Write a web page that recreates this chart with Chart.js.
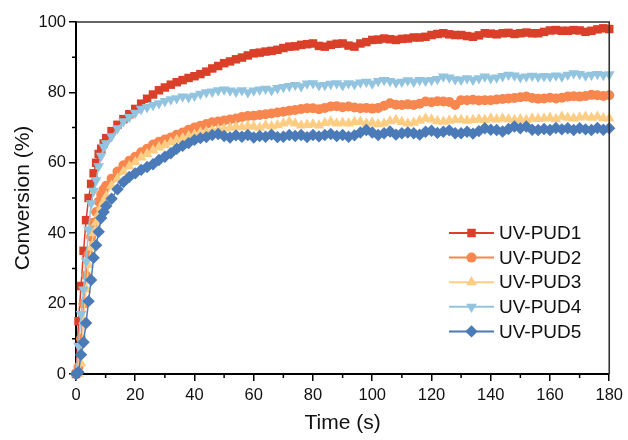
<!DOCTYPE html>
<html>
<head>
<meta charset="utf-8">
<script src="https://cdn.jsdelivr.net/npm/chart.js@4"></script>
<style>
  html, body { margin: 0; padding: 0; background: #fff; }
  #wrap { width: 628px; height: 440px; }
</style>
</head>
<body>
<div id="wrap"><canvas id="stage"></canvas></div>
<script>
// time axis (s): dense sampling at the start, then every 2 s
var time = [0, 0.85, 1.7, 2.55, 3.4, 4.25, 5.1, 5.95, 6.8, 7.65, 8.5, 9.35, 10.2,
  12, 14, 16, 18, 20, 22, 24, 26, 28, 30,
  32, 34, 36, 38, 40, 42, 44, 46, 48, 50,
  52, 54, 56, 58, 60, 62, 64, 66, 68, 70,
  72, 74, 76, 78, 80, 82, 84, 86, 88, 90,
  92, 94, 96, 98, 100, 102, 104, 106, 108, 110,
  112, 114, 116, 118, 120, 122, 124, 126, 128, 130,
  132, 134, 136, 138, 140, 142, 144, 146, 148, 150,
  152, 154, 156, 158, 160, 162, 164, 166, 168, 170,
  172, 174, 176, 178, 180];

var pud1 = [0, 15, 25, 35, 43.7, 50, 54, 57, 60, 62.5, 64, 65.5, 67,
  69, 70.8, 72.4, 73.8, 75.3, 76.8, 78.2, 79.4, 80.6, 81.4,
  82.2, 82.9, 83.5, 84.1, 84.6, 85.2, 85.9, 86.8, 87.5, 88.3,
  88.8, 89.4, 89.9, 90.5, 91.1, 91.3, 91.6, 91.8, 92.1, 92.6,
  93.0, 93.1, 93.5, 93.7, 93.9, 93.2, 93.0, 93.5, 93.8, 93.9,
  93.3, 93.0, 93.9, 94.3, 94.9, 95.0, 95.3, 95.1, 94.9, 95.2,
  95.3, 95.6, 95.6, 95.8, 96.3, 96.6, 96.8, 96.5, 96.3, 96.3,
  96.0, 95.8, 96.2, 96.8, 96.7, 96.5, 96.8, 96.9, 96.6, 96.8,
  97.0, 96.8, 96.8, 97.2, 97.6, 97.7, 97.5, 97.5, 97.7, 97.6,
  97.2, 97.5, 97.9, 98.2, 98.0];

var pud2 = [0, 2, 10, 20, 28, 34, 39, 43, 46, 49, 51, 52.5, 53.5,
  55.5, 57.5, 59.3, 60.6, 61.7, 63.0, 64.0, 65.2, 66.0, 66.6,
  67.2, 68.0, 68.6, 69.4, 70.0, 70.5, 71.0, 71.5, 71.7, 72.0,
  72.3, 72.6, 73.0, 73.3, 73.4, 73.6, 73.8, 74.0, 74.3, 74.5,
  74.8, 75.0, 75.3, 75.5, 75.5, 75.2, 75.6, 76.0, 76.1, 75.8,
  76.0, 75.7, 75.5, 75.6, 75.4, 75.6, 76.2, 76.9, 76.5, 76.4,
  76.6, 76.4, 76.8, 77.4, 77.2, 77.5, 77.4, 77.3, 76.4, 77.8,
  77.8, 77.9, 77.7, 77.8, 77.8, 78.0, 78.1, 78.3, 78.4, 78.6,
  78.8, 78.4, 78.2, 78.3, 78.5, 78.3, 78.5, 78.8, 78.9, 78.8,
  79.0, 79.3, 79.2, 79.0, 79.2];

var pud3 = [0, 0, 3, 15, 24, 31, 36, 40, 43, 45.5, 47.5, 49, 50.5,
  53.5, 55.5, 57.5, 59.0, 60.2, 61.5, 62.5, 63.5, 64.4, 65.0,
  65.8, 66.5, 67.0, 67.6, 68.0, 68.6, 68.8, 69.2, 69.5, 69.7,
  70.0, 70.3, 70.1, 70.5, 70.3, 70.0, 70.6, 70.4, 70.7, 71.2,
  71.7, 71.2, 70.6, 70.8, 71.0, 70.6, 71.3, 71.7, 71.2, 71.4,
  71.2, 71.6, 71.7, 71.2, 71.4, 71.0, 71.2, 71.8, 72.2, 71.6,
  71.2, 71.4, 72.0, 72.6, 72.3, 71.8, 71.7, 72.0, 72.2, 72.2,
  72.0, 72.2, 72.4, 72.2, 72.6, 72.3, 72.6, 72.4, 72.2, 72.4,
  72.2, 72.6, 72.5, 72.6, 72.8, 72.4, 73.1, 72.8, 72.6, 72.9,
  73.1, 72.8, 73.1, 72.7, 72.6];

var pud4 = [0, 8, 17, 24, 32, 41, 48.5, 52, 55, 59, 62, 64.5, 65.5,
  67.5, 69.8, 71.8, 73.0, 74.2, 75.3, 75.8, 76.4, 76.9, 77.5,
  78.0, 78.3, 78.8, 78.6, 79.0, 79.6, 80.0, 80.2, 80.6, 80.8,
  80.5, 80.2, 80.6, 80.0, 80.5, 80.8, 81.0, 80.6, 81.2, 81.5,
  81.8, 82.1, 81.7, 82.5, 82.6, 82.0, 82.1, 82.4, 82.6, 82.0,
  82.6, 82.3, 82.8, 83.0, 82.5, 83.2, 83.5, 83.2, 82.8, 83.0,
  83.4, 83.0, 83.5, 83.3, 83.5, 83.8, 84.5, 84.2, 83.7, 83.6,
  84.0, 83.6, 84.0, 84.5, 84.0, 84.2, 84.6, 85.0, 84.8, 84.3,
  84.5, 84.7, 84.4, 84.6, 84.5, 84.8, 84.5, 85.0, 85.4, 85.2,
  84.8, 85.0, 85.2, 84.9, 85.1];

var pud5 = [0, 0.5, 5.5, 9, 14.5, 20.7, 26.7, 33, 36.6, 40.4, 44.3, 46, 47.7,
  49.8, 52.5, 54.5, 56.0, 57.0, 58.0, 58.8, 59.6, 60.8, 61.7,
  62.7, 64.0, 64.8, 65.6, 66.5, 67.0, 67.3, 67.9, 68.2, 67.6,
  67.2, 67.8, 67.4, 67.9, 67.2, 67.6, 67.4, 68.0, 67.3, 67.4,
  67.9, 67.6, 67.9, 67.3, 67.9, 67.5, 67.9, 68.2, 67.6, 67.9,
  67.4, 67.8, 68.6, 69.3, 68.6, 67.9, 68.4, 68.9, 68.0, 68.4,
  68.6, 68.4, 68.0, 68.8, 69.1, 68.5, 68.8, 69.2, 68.4, 68.4,
  68.8, 68.3, 69.0, 69.8, 69.4, 69.3, 68.9, 69.6, 70.3, 69.8,
  70.3, 69.4, 69.3, 69.6, 69.3, 69.9, 69.5, 69.8, 69.3, 69.8,
  69.5, 69.3, 69.9, 69.4, 69.8];

var names = ['UV-PUD1', 'UV-PUD2', 'UV-PUD3', 'UV-PUD4', 'UV-PUD5'];
var colors = ['#DA4029', '#F7874F', '#FDCD84', '#92C4DF', '#4A7AB7'];
var markers = ['rect', 'circle', 'triangle', 'triangle', 'rectRot'];
var rotations = [0, 0, 0, 180, 0];
var radii = [6, 5, 6.2, 6.2, 6.2];

var xTicks = [0, 20, 40, 60, 80, 100, 120, 140, 160, 180];
var yTicks = [0, 20, 40, 60, 80, 100];

var FONT = "'Liberation Sans', Arial, sans-serif";

var allSeries = [pud1, pud2, pud3, pud4, pud5];
var datasets = [];
for (var i = 0; i < allSeries.length; i++) {
  datasets.push({
    label: names[i],
    data: allSeries[i].map(function (v, k) { return {x: time[k], y: v}; }),
    showLine: true,
    borderColor: colors[i],
    backgroundColor: colors[i],
    borderWidth: 1.5,
    pointStyle: markers[i],
    pointRotation: rotations[i],
    pointRadius: radii[i],
    pointHoverRadius: radii[i],
    pointBorderWidth: 0,
    pointBackgroundColor: colors[i],
    order: allSeries.length - i,   // last series drawn on top
    clip: false
  });
}

// frame on top/right, minor ticks and the line+marker legend
var decoPlugin = {
  id: 'deco',
  afterDraw: function (chart) {
    var ctx = chart.ctx;
    var a = chart.chartArea;
    var xs = chart.scales.x, ys = chart.scales.y;
    ctx.save();
    ctx.strokeStyle = '#333';
    ctx.lineWidth = 1.6;
    ctx.beginPath();
    ctx.moveTo(a.left, a.top);
    ctx.lineTo(a.right, a.top);
    ctx.lineTo(a.right, a.bottom);
    ctx.stroke();

    ctx.strokeStyle = '#000';
    ctx.lineWidth = 1.5;
    ctx.beginPath();
    for (var v = 10; v < 100; v += 20) {
      var py = ys.getPixelForValue(v);
      ctx.moveTo(a.left - 4, py);
      ctx.lineTo(a.left, py);
    }
    for (var t = 10; t < 180; t += 20) {
      var px = xs.getPixelForValue(t);
      ctx.moveTo(px, a.bottom);
      ctx.lineTo(px, a.bottom + 4);
    }
    ctx.stroke();

    // legend
    var lx0 = 449, lx1 = 494, ly = 233, gap = 24.6;
    ctx.font = '19px ' + FONT;
    ctx.textBaseline = 'middle';
    ctx.textAlign = 'left';
    for (var i = 0; i < names.length; i++) {
      var y = ly + i * gap;
      ctx.strokeStyle = colors[i];
      ctx.lineWidth = 2;
      ctx.beginPath();
      ctx.moveTo(lx0, y);
      ctx.lineTo(lx1, y);
      ctx.stroke();
      ctx.fillStyle = colors[i];
      ctx.strokeStyle = colors[i];
      Chart.helpers.drawPoint(ctx, {
        pointStyle: markers[i], radius: radii[i],
        rotation: rotations[i], borderWidth: 0
      }, (lx0 + lx1) / 2, y);
      ctx.fillStyle = '#111';
      ctx.fillText(names[i], 499, y + 1);
    }
    ctx.restore();
  }
};

new Chart(document.getElementById('stage'), {
  type: 'scatter',
  data: { datasets: datasets },
  plugins: [decoPlugin],
  options: {
    responsive: true,
    maintainAspectRatio: false,
    animation: false,
    events: [],
    layout: { padding: { left: 0, top: 22, right: 15, bottom: 0 } },
    plugins: {
      legend: { display: false },
      tooltip: { enabled: false }
    },
    scales: {
      x: {
        type: 'linear',
        min: 0,
        max: 180,
        afterFit: function (s) { s.height = 66; },
        afterBuildTicks: function (s) { s.ticks = xTicks.map(function (v) { return {value: v}; }); },
        ticks: { color: '#111', padding: 5, maxRotation: 0, font: { family: FONT, size: 16.5 } },
        grid: { drawOnChartArea: false, drawTicks: true, tickLength: 7, color: '#000', lineWidth: 1.5 },
        border: { display: true, color: '#000', width: 2 },
        title: {
          display: true, text: 'Time (s)', color: '#111',
          font: { family: FONT, size: 21 }, padding: { top: 0, bottom: 4 }
        }
      },
      y: {
        min: 0,
        max: 100,
        afterFit: function (s) { s.width = 76; },
        afterBuildTicks: function (s) { s.ticks = yTicks.map(function (v) { return {value: v}; }); },
        ticks: { color: '#111', padding: 3, font: { family: FONT, size: 16.5 } },
        grid: { drawOnChartArea: false, drawTicks: true, tickLength: 7, color: '#000', lineWidth: 1.5 },
        border: { display: true, color: '#000', width: 2 },
        title: {
          display: true, text: 'Conversion (%)', color: '#111',
          font: { family: FONT, size: 21 }, padding: { top: 11, bottom: 0 }
        }
      }
    }
  }
});
</script>
</body>
</html>
